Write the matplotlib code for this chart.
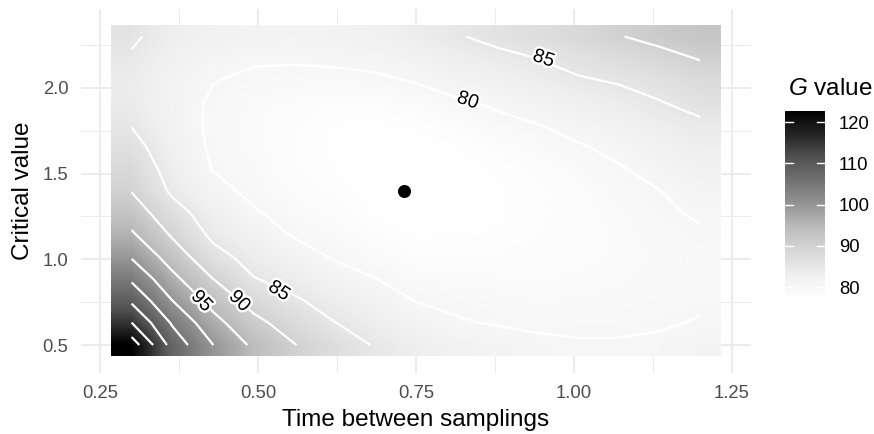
import numpy as np
import matplotlib
matplotlib.use("Agg")
import matplotlib.pyplot as plt
import matplotlib.patheffects as pe

plt.rcParams['font.family'] = 'Liberation Sans'
plt.rcParams['mathtext.fontset'] = 'custom'
plt.rcParams['mathtext.it'] = 'Liberation Sans:italic'
plt.rcParams['mathtext.rm'] = 'Liberation Sans'

# grid of the response surface
time_vals = [0.3, 0.3643, 0.4286, 0.4929, 0.5571, 0.6214, 0.6857, 0.75,
             0.8143, 0.8786, 0.9429, 1.0071, 1.0714, 1.1357, 1.2]
crit_vals = [0.5, 0.6286, 0.7571, 0.8857, 1.0143, 1.1429, 1.2714, 1.4,
             1.5286, 1.6571, 1.7857, 1.9143, 2.0429, 2.1714, 2.3]

# G value, one row per critical value (bottom to top)
g_rows = [
    [122.8, 108.1, 100.1, 94.1, 90.2, 87.2, 84.7, 83.0, 81.9, 81.1, 80.6, 80.25, 80.25, 80.5, 80.9],
    [115.1, 104.5, 96.7, 91.3, 87.85, 85.1, 83.2, 81.3, 80.2, 79.85, 79.5, 79.5, 79.5, 79.7, 80.2],
    [109.3, 100.1, 93.4, 88.3, 85.6, 83.3, 81.7, 79.95, 79.6, 79.2, 78.9, 79.0, 79.1, 79.3, 79.6],
    [104.2, 96.3, 90.05, 85.2, 83.4, 81.5, 80.05, 78.8, 78.7, 78.5, 78.4, 78.6, 78.8, 79.1, 79.4],
    [99.6, 92.8, 86.5, 83.5, 81.5, 79.7, 78.8, 77.9, 77.9, 77.9, 78.0, 78.3, 78.6, 79.0, 79.4],
    [95.7, 89.5, 84.1, 81.9, 79.75, 78.9, 77.9, 77.3, 77.4, 77.5, 77.8, 78.1, 78.6, 79.2, 79.7],
    [92.6, 86.8, 82.7, 80.3, 78.9, 78.2, 77.3, 77.0, 77.1, 77.3, 77.7, 78.1, 78.8, 79.6, 80.3],
    [89.8, 84.3, 81.0, 79.3, 78.3, 77.7, 77.0, 76.9, 77.0, 77.3, 77.7, 78.3, 79.2, 79.95, 81.1],
    [88.3, 83.2, 79.85, 79.0, 77.9, 77.4, 76.95, 76.95, 77.1, 77.5, 78.0, 78.8, 79.8, 80.9, 82.0],
    [86.5, 82.3, 79.5, 78.7, 77.8, 77.3, 77.0, 77.1, 77.4, 78.0, 78.8, 79.75, 80.7, 82.0, 83.1],
    [84.8, 81.7, 79.4, 78.6, 77.9, 77.4, 77.3, 77.5, 78.1, 79.3, 79.95, 81.0, 82.0, 83.4, 84.3],
    [83.8, 81.4, 79.6, 78.8, 78.3, 77.8, 78.0, 78.5, 79.6, 80.4, 81.6, 82.6, 83.6, 84.8, 86.3],
    [83.6, 81.5, 80.1, 79.5, 79.2, 79.1, 79.4, 80.2, 81.4, 82.2, 83.3, 84.6, 85.3, 86.5, 87.8],
    [84.5, 82.2, 80.9, 80.3, 80.3, 80.6, 81.0, 81.8, 83.1, 84.0, 85.0, 86.3, 87.5, 88.6, 90.2],
    [85.7, 83.0, 82.0, 81.4, 81.3, 81.6, 82.3, 83.4, 84.7, 86.0, 87.1, 88.4, 89.8, 91.2, 92.4],
]
contour_levels = [80, 85, 90, 95, 100, 105, 110, 115, 120]

# labelled contours: text, x, y, angle
label_text = ['85', '80', '85', '90', '95']
label_x = [0.952, 0.832, 0.533, 0.470, 0.410]
label_y = [2.167, 1.923, 0.812, 0.753, 0.753]
label_rot = [-19, -19, -33, -45, -46]

opt_x, opt_y = 0.7307, 1.40
bar_ticks = [80, 90, 100, 110, 120]

G = np.array(g_rows)
X, Y = np.meshgrid(time_vals, crit_vals)
gmin, gmax = G.min(), G.max()
dx = (time_vals[1] - time_vals[0]) / 2
dy = (crit_vals[1] - crit_vals[0]) / 2

fig = plt.figure(figsize=(8.74, 4.34), dpi=100)
ax = fig.add_axes([0.0926, 0.1415, 0.7664, 0.8378])

im = ax.imshow(G, origin='lower', cmap='Greys', vmin=gmin, vmax=gmax,
               extent=[time_vals[0] - dx, time_vals[-1] + dx, crit_vals[0] - dy, crit_vals[-1] + dy],
               interpolation='bilinear', aspect='auto', zorder=1)
ax.contour(X, Y, G, levels=contour_levels, colors='white', linewidths=1.6, zorder=2)

for t, lx, ly, r in zip(label_text, label_x, label_y, label_rot):
    ax.text(lx, ly, t, fontsize=14, rotation=r, ha='center', va='center',
            rotation_mode='anchor', zorder=3,
            path_effects=[pe.withStroke(linewidth=3.5, foreground='white')])

ax.plot(opt_x, opt_y, 'o', color='black', markersize=8.4, zorder=4)

ax.set_xlim(0.2198, 1.2802)
ax.set_ylim(0.339, 2.461)
ax.set_xticks([0.25, 0.50, 0.75, 1.00, 1.25])
ax.set_xticklabels(['0.25', '0.50', '0.75', '1.00', '1.25'])
ax.set_yticks([0.5, 1.0, 1.5, 2.0])
ax.set_yticklabels(['0.5', '1.0', '1.5', '2.0'])
ax.set_xticks([0.375, 0.625, 0.875, 1.125], minor=True)
ax.set_yticks([0.75, 1.25, 1.75, 2.25], minor=True)
ax.grid(which='major', color='#EBEBEB', linewidth=1.4)
ax.grid(which='minor', color='#EBEBEB', linewidth=0.7)
ax.set_axisbelow(True)
for s in ax.spines.values():
    s.set_visible(False)
ax.tick_params(which='both', length=0)
ax.tick_params(axis='x', pad=9, labelsize=13.3, labelcolor='#4D4D4D')
ax.tick_params(axis='y', pad=9, labelsize=13.3, labelcolor='#4D4D4D')
ax.set_xlabel('Time between samplings', fontsize=17.5, labelpad=5)
ax.set_ylabel('Critical value', fontsize=17.5, labelpad=6)

# colour bar
cax = fig.add_axes([785 / 874, 1 - 300 / 434, 40 / 874, 189.3 / 434])
cb = fig.colorbar(im, cax=cax)
cb.outline.set_visible(False)
cb.set_ticks(bar_ticks)
cax.tick_params(length=0, pad=10, labelsize=13.3, labelcolor='black')
for t in bar_ticks:
    cax.plot([0, 0.2], [t, t], color='white', lw=1, transform=cax.get_yaxis_transform())
    cax.plot([0.8, 1], [t, t], color='white', lw=1, transform=cax.get_yaxis_transform())
fig.text(788 / 874, 1 - 89 / 434, '$G$ value', fontsize=17.5, ha='left', va='center')

fig.savefig('out.png')
